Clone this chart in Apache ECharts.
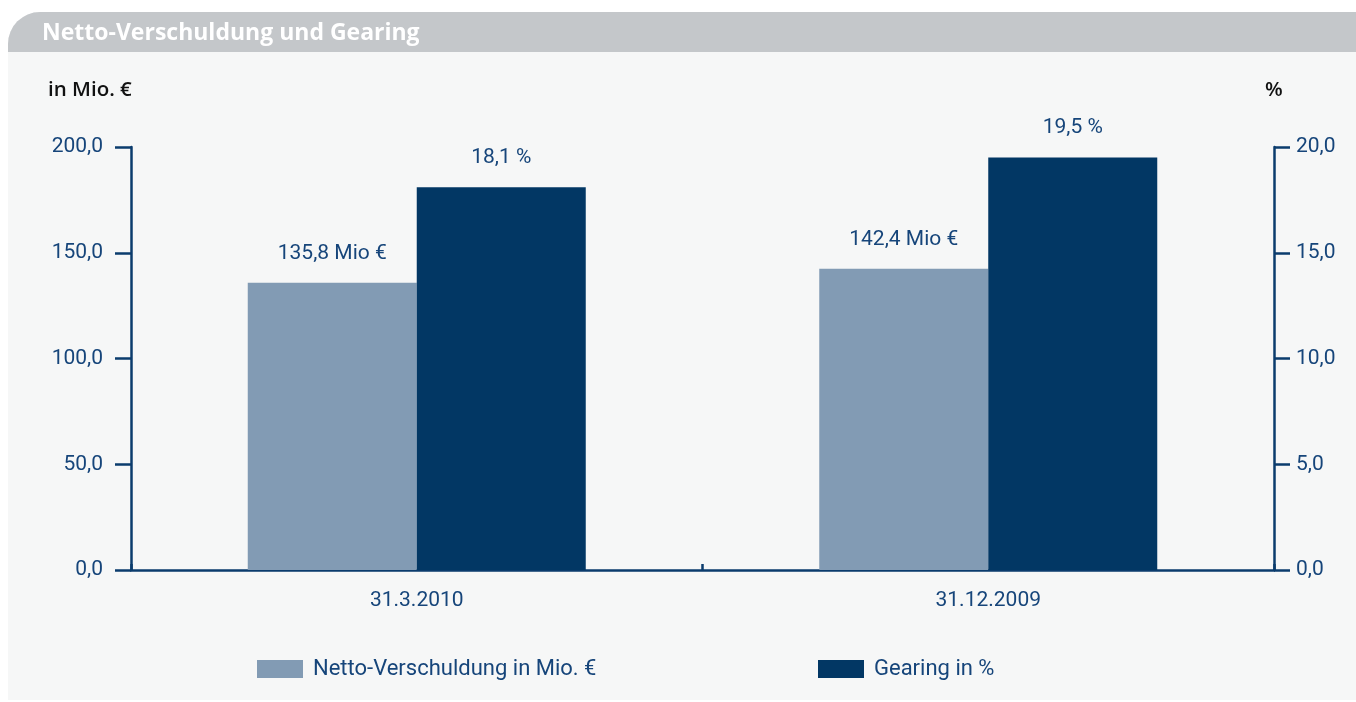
<!DOCTYPE html>
<html>
<head>
<meta charset="utf-8">
<script src="https://cdn.jsdelivr.net/npm/echarts@6/dist/echarts.min.js"></script>
<style>
  html, body { margin: 0; padding: 0; background: #ffffff; }
  #chart { width: 1356px; height: 702px; }
</style>
</head>
<body>
<div id="chart"></div>
<script>
// Daten
const categories = ['31.3.2010', '31.12.2009']
const nettoVerschuldung = [135.8, 142.4]   // in Mio. €
const gearing = [18.1, 19.5]               // in %
const leftTicks = { min: 0, max: 200, interval: 50 }
const rightTicks = { min: 0, max: 20, interval: 5 }

const axisColor = '#0b3c6d'
const textColor = '#16457a'
const fontFamily = 'Roboto, "Liberation Sans", sans-serif'
const headFont = '"Open Sans", Roboto, sans-serif'

// Zahl mit Komma
const fmt = v => v.toFixed(1).replace('.', ',')

const chart = echarts.init(document.getElementById('chart'))
const option = {
  animation: false,
  textStyle: { fontFamily: fontFamily },
  graphic: [
    // Hintergrund-Panel
    {
      type: 'rect', z: -10, silent: true,
      shape: { x: 8, y: 12, width: 1348, height: 688, r: [32, 0, 0, 0] },
      style: { fill: '#f6f7f7' }
    },
    {
      type: 'rect', z: -9, silent: true,
      shape: { x: 8, y: 12, width: 1348, height: 40, r: [32, 0, 0, 0] },
      style: { fill: '#c4c7ca' }
    },
    {
      type: 'text', left: 42, top: 22,
      style: { text: 'Netto-Verschuldung und Gearing', fill: '#ffffff', font: 'bold 23px ' + headFont }
    },
    {
      type: 'text', left: 48, top: 80,
      style: { text: 'in Mio. €', fill: '#111111', font: '600 20.5px ' + headFont }
    },
    {
      type: 'text', left: 1265, top: 80,
      style: { text: '%', fill: '#111111', font: '600 20.5px ' + headFont }
    }
  ],
  legend: [
    {
      left: 257, top: 658, padding: 0,
      icon: 'rect',
      itemWidth: 46, itemHeight: 18, itemGap: 10,
      data: ['Netto-Verschuldung in Mio. €'],
      textStyle: { color: textColor, fontSize: 22, padding: [0, 0, 0, 5] }
    },
    {
      left: 818, top: 658, padding: 0,
      icon: 'rect',
      itemWidth: 46, itemHeight: 18, itemGap: 10,
      data: ['Gearing in %'],
      textStyle: { color: textColor, fontSize: 22, padding: [0, 0, 0, 5] }
    }
  ],
  grid: { left: 131, right: 82, top: 147, bottom: 132, containLabel: false },
  xAxis: {
    type: 'category',
    data: categories,
    axisLine: { lineStyle: { color: axisColor, width: 2.5 } },
    axisTick: { show: true, inside: true, length: 6, lineStyle: { color: axisColor, width: 2.5 } },
    axisLabel: { color: textColor, fontSize: 21, margin: 20 }
  },
  yAxis: [
    {
      type: 'value',
      min: leftTicks.min, max: leftTicks.max, interval: leftTicks.interval,
      axisLine: { show: true, lineStyle: { color: axisColor, width: 2.5 } },
      axisTick: { show: true, length: 16, lineStyle: { color: axisColor, width: 2.5 } },
      axisLabel: { color: textColor, fontSize: 21, margin: 28, formatter: fmt },
      splitLine: { show: false }
    },
    {
      type: 'value',
      min: rightTicks.min, max: rightTicks.max, interval: rightTicks.interval,
      axisLine: { show: true, lineStyle: { color: axisColor, width: 2.5 } },
      axisTick: { show: true, length: 16, lineStyle: { color: axisColor, width: 2.5 } },
      axisLabel: { color: textColor, fontSize: 21, margin: 22, formatter: fmt },
      splitLine: { show: false }
    }
  ],
  series: [
    {
      name: 'Netto-Verschuldung in Mio. €',
      type: 'bar',
      yAxisIndex: 0,
      data: nettoVerschuldung,
      barWidth: 169,
      barGap: 0,
      itemStyle: { color: '#829bb4' },
      label: {
        show: true, position: 'top', distance: 19,
        color: textColor, fontSize: 21,
        formatter: p => fmt(p.value) + ' Mio €'
      }
    },
    {
      name: 'Gearing in %',
      type: 'bar',
      yAxisIndex: 1,
      data: gearing,
      barWidth: 169,
      barGap: 0,
      itemStyle: { color: '#023764' },
      label: {
        show: true, position: 'top', distance: 19,
        color: textColor, fontSize: 21,
        formatter: p => fmt(p.value) + ' %'
      }
    }
  ]
}
chart.setOption(option)
</script>
</body>
</html>
